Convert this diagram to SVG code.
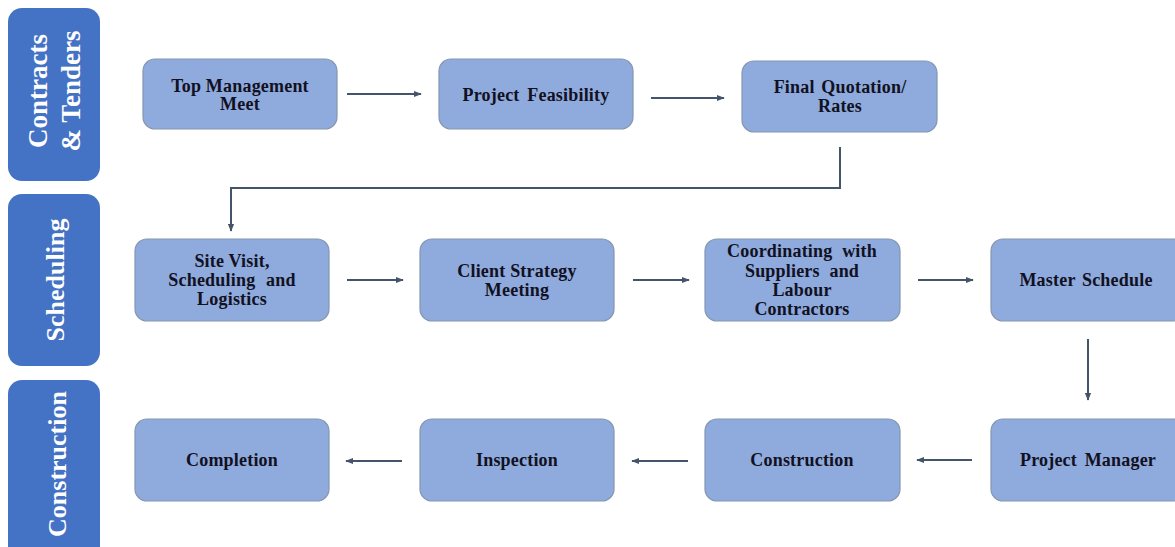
<svg xmlns="http://www.w3.org/2000/svg" width="1175" height="547" viewBox="0 0 1175 547">
  <defs>
    <style>
      .panel { fill: #4472C4; }
      .ptext { fill: #FFFFFF; font-family: "Liberation Serif", "Times New Roman", serif; font-weight: bold; font-size: 27px; text-anchor: middle; }
      .box { fill: #8FAADC; stroke: #8497B0; stroke-width: 1.2; }
      .ntext { fill: #111122; font-family: "Liberation Serif", "Times New Roman", serif; font-weight: bold; font-size: 18px; letter-spacing: 0.2px; text-anchor: middle; }
      .conn { fill: none; stroke: #44546A; stroke-width: 2; }
    </style>
    <marker id="ah" viewBox="0 0 10 10" refX="9" refY="5" markerWidth="4" markerHeight="4" orient="auto" markerUnits="strokeWidth">
      <path d="M0,1 L10,5 L0,9 Z" fill="#44546A"/>
    </marker>
  </defs>

  <g id="lane-contracts">
    <rect class="panel" x="8" y="8" width="92" height="173" rx="14"/>
    <text class="ptext" transform="translate(47,91) rotate(-90)">Contracts</text>
    <text class="ptext" transform="translate(80,91) rotate(-90)">&amp; Tenders</text>
  </g>
  <g id="lane-scheduling">
    <rect class="panel" x="8" y="194" width="92" height="172" rx="14"/>
    <text class="ptext" style="font-size:26px" transform="translate(64,280) rotate(-90)">Scheduling</text>
  </g>
  <g id="lane-construction">
    <rect class="panel" x="8" y="380" width="92" height="190" rx="14"/>
    <text class="ptext" style="font-size:26px" transform="translate(66,464) rotate(-90)">Construction</text>
  </g>

  <g id="n-top-management">
    <rect class="box" x="143" y="59" width="194" height="70" rx="12"/>
    <text class="ntext" x="240" y="92">Top Management</text>
    <text class="ntext" x="240" y="110">Meet</text>
  </g>
  <g id="n-project-feasibility">
    <rect class="box" x="439" y="59" width="194" height="70" rx="12"/>
    <text class="ntext" x="536" y="101" word-spacing="3">Project Feasibility</text>
  </g>
  <g id="n-final-quotation">
    <rect class="box" x="742" y="61" width="195" height="71" rx="12"/>
    <text class="ntext" x="840" y="93" word-spacing="2">Final Quotation/</text>
    <text class="ntext" x="840" y="112">Rates</text>
  </g>

  <g id="n-site-visit">
    <rect class="box" x="135" y="239" width="194" height="82" rx="12"/>
    <text class="ntext" x="232" y="267">Site Visit,</text>
    <text class="ntext" x="232" y="286" word-spacing="6">Scheduling and</text>
    <text class="ntext" x="232" y="305">Logistics</text>
  </g>
  <g id="n-client-strategy">
    <rect class="box" x="420" y="239" width="194" height="82" rx="12"/>
    <text class="ntext" x="517" y="277">Client Strategy</text>
    <text class="ntext" x="517" y="296">Meeting</text>
  </g>
  <g id="n-coordinating">
    <rect class="box" x="705" y="239" width="195" height="82" rx="12"/>
    <text class="ntext" x="802" y="257" word-spacing="5">Coordinating with</text>
    <text class="ntext" x="802" y="277" word-spacing="5">Suppliers and</text>
    <text class="ntext" x="802" y="296">Labour</text>
    <text class="ntext" x="802" y="315">Contractors</text>
  </g>
  <g id="n-master-schedule">
    <rect class="box" x="991" y="239" width="194" height="82" rx="12"/>
    <text class="ntext" x="1086" y="286" word-spacing="2">Master Schedule</text>
  </g>

  <g id="n-completion">
    <rect class="box" x="135" y="419" width="194" height="82" rx="12"/>
    <text class="ntext" x="232" y="466">Completion</text>
  </g>
  <g id="n-inspection">
    <rect class="box" x="420" y="419" width="194" height="82" rx="12"/>
    <text class="ntext" x="517" y="466">Inspection</text>
  </g>
  <g id="n-construction">
    <rect class="box" x="705" y="419" width="195" height="82" rx="12"/>
    <text class="ntext" x="802" y="466">Construction</text>
  </g>
  <g id="n-project-manager">
    <rect class="box" x="991" y="419" width="194" height="82" rx="12"/>
    <text class="ntext" x="1088" y="466" word-spacing="3">Project Manager</text>
  </g>

  <g id="connectors">
    <path class="conn" d="M347,94 L421,94" marker-end="url(#ah)"/>
    <path class="conn" d="M651,98 L724,98" marker-end="url(#ah)"/>
    <path class="conn" d="M840,147 L840,188 L231,188 L231,231" marker-end="url(#ah)"/>
    <path class="conn" d="M347,280 L403,280" marker-end="url(#ah)"/>
    <path class="conn" d="M633,280 L689,280" marker-end="url(#ah)"/>
    <path class="conn" d="M918,280 L973,280" marker-end="url(#ah)"/>
    <path class="conn" d="M1088,339 L1088,400" marker-end="url(#ah)"/>
    <path class="conn" d="M972,460 L917,460" marker-end="url(#ah)"/>
    <path class="conn" d="M688,461 L632,461" marker-end="url(#ah)"/>
    <path class="conn" d="M402,461 L346,461" marker-end="url(#ah)"/>
  </g>
</svg>
